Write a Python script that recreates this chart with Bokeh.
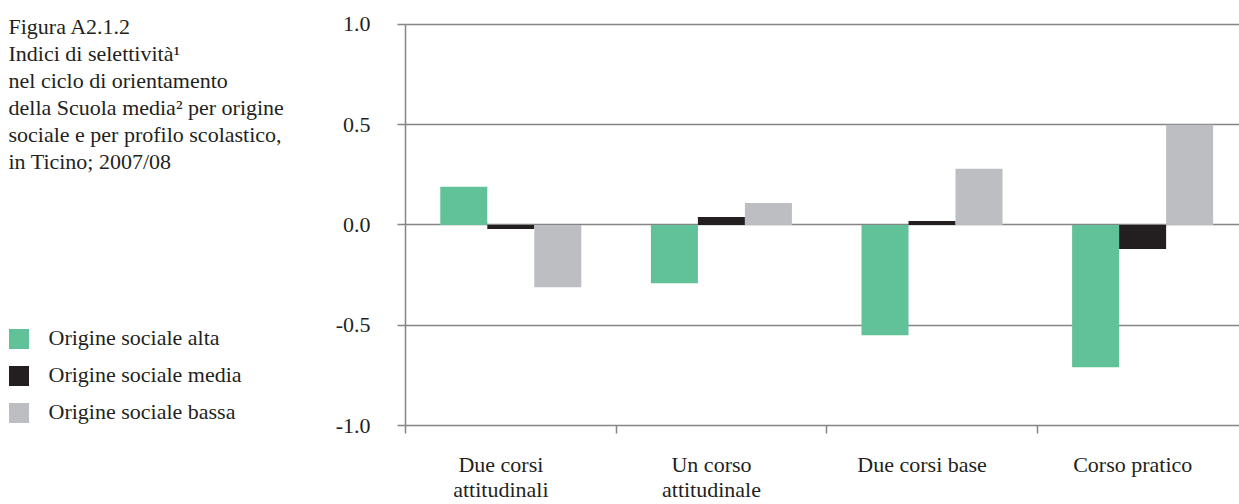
from bokeh.plotting import figure
from bokeh.layouts import row
from bokeh.models import (ColumnDataSource, Range1d, FixedTicker, Legend, LegendItem, Label)
from bokeh.transform import dodge
from bokeh.embed import file_html
from bokeh.resources import INLINE

# ---- data ----
categories = ["Due corsi\nattitudinali", "Un corso\nattitudinale", "Due corsi base", "Corso pratico"]
alta = [0.19, -0.29, -0.55, -0.71]
media = [-0.02, 0.04, 0.02, -0.12]
bassa = [-0.31, 0.11, 0.28, 0.50]
series_names = ["Origine sociale alta", "Origine sociale media", "Origine sociale bassa"]
y_ticks = [-1.0, -0.5, 0.0, 0.5, 1.0]
y_tick_labels = ["-1.0", "-0.5", "0.0", "0.5", "1.0"]
title_lines = [
    "Figura A2.1.2",
    "Indici di selettività¹",
    "nel ciclo di orientamento",
    "della Scuola media² per origine",
    "sociale e per profilo scolastico,",
    "in Ticino; 2007/08",
]

colors = ["#61c29a", "#231f20", "#bdbec2"]
FONT = "Liberation Serif"
TXT = "#231f20"
GRID = "#858585"
FS = "22px"

W, H = 1239, 504
L = 320            # width of the left (title + legend) figure
BOTTOM = 78        # space under the plotting frame
FRAME_H = H - BOTTOM
PX_PER_UNIT = 201.0

n = len(categories)
centers = [i + 0.5 for i in range(n)]
src = ColumnDataSource(dict(xc=centers, alta=alta, media=media, bassa=bassa))
value_cols = ["alta", "media", "bassa"]

# ---- right figure: the chart ----
y_top = -1.0 + FRAME_H / PX_PER_UNIT   # a little headroom above 1.0 (empty)
p = figure(width=W - L, height=H, output_backend="svg", toolbar_location=None,
           x_range=Range1d(0, 3.96), y_range=Range1d(-1.0, y_top),
           min_border_left=405 - L, min_border_right=0, min_border_top=0,
           min_border_bottom=BOTTOM)
p.outline_line_color = None
p.border_fill_color = "white"

bw = 0.2232
for k, (col, c) in enumerate(zip(value_cols, colors)):
    p.vbar(x=dodge("xc", (k - 1) * bw, range=p.x_range), top=col, bottom=0, width=bw,
           source=src, fill_color=c, line_color=None)

yax = p.yaxis[0]
yax.ticker = FixedTicker(ticks=y_ticks, minor_ticks=[])
yax.bounds = (-1.0, 1.0)
yax.major_label_overrides = {t: l for t, l in zip(y_ticks, y_tick_labels)}
yax.major_tick_out = 8
yax.major_tick_in = 0
yax.minor_tick_line_color = None
yax.major_tick_line_color = GRID
yax.major_tick_line_width = 1.5
yax.axis_line_color = GRID
yax.axis_line_width = 1.5
yax.major_label_text_font = FONT
yax.major_label_text_font_size = FS
yax.major_label_text_color = TXT
yax.major_label_standoff = 27

label_pos = [c - 0.047 for c in centers]
xax = p.xaxis[0]
xax.ticker = FixedTicker(ticks=label_pos, minor_ticks=list(range(n + 1)))
xax.major_label_overrides = {pos: lab for pos, lab in zip(label_pos, categories)}
xax.major_tick_line_color = None
xax.major_tick_out = 8
xax.major_tick_in = 0
xax.minor_tick_out = 8
xax.minor_tick_in = 0
xax.minor_tick_line_color = GRID
xax.minor_tick_line_width = 1.5
xax.axis_line_color = GRID
xax.axis_line_width = 1.5
xax.major_label_text_font = FONT
xax.major_label_text_font_size = FS
xax.major_label_text_color = TXT
xax.major_label_text_line_height = 1.0
xax.major_label_standoff = 18

p.xgrid.grid_line_color = None
p.ygrid.ticker = FixedTicker(ticks=y_ticks)
p.ygrid.grid_line_color = GRID
p.ygrid.grid_line_width = 1.5

# ---- left figure: title block and legend ----
pl = figure(width=L, height=H, output_backend="svg", toolbar_location=None,
            x_range=Range1d(0, L), y_range=Range1d(FRAME_H, 0),
            min_border_left=0, min_border_right=0, min_border_top=0,
            min_border_bottom=BOTTOM, x_axis_location=None, y_axis_location=None)
pl.outline_line_color = None
pl.xgrid.visible = False
pl.ygrid.visible = False
pl.border_fill_color = "white"

for i, line in enumerate(title_lines):
    pl.add_layout(Label(x=8, y=26 + 27 * i, text=line, text_font=FONT,
                        text_font_size=FS, text_color=TXT,
                        text_baseline="alphabetic", text_align="left"))

# legend renderers: same data, hidden (they only provide the legend swatches)
leg_r = [pl.vbar(x="xc", top=col, bottom=0, width=bw, source=src,
                 fill_color=c, line_color=None, visible=False)
         for col, c in zip(value_cols, colors)]
legend = Legend(items=[LegendItem(label=nm, renderers=[r]) for nm, r in zip(series_names, leg_r)],
                location=(5.5, 0), orientation="vertical",
                glyph_width=25, glyph_height=25, label_standoff=18,
                label_height=24, spacing=11, padding=0, margin=0,
                border_line_color=None, background_fill_alpha=0,
                inactive_fill_alpha=0,
                label_text_font=FONT, label_text_font_size=FS,
                label_text_color=TXT)
pl.add_layout(legend, "center")

layout = row(pl, p, spacing=0)
open("out.html", "w").write(file_html(layout, INLINE))
